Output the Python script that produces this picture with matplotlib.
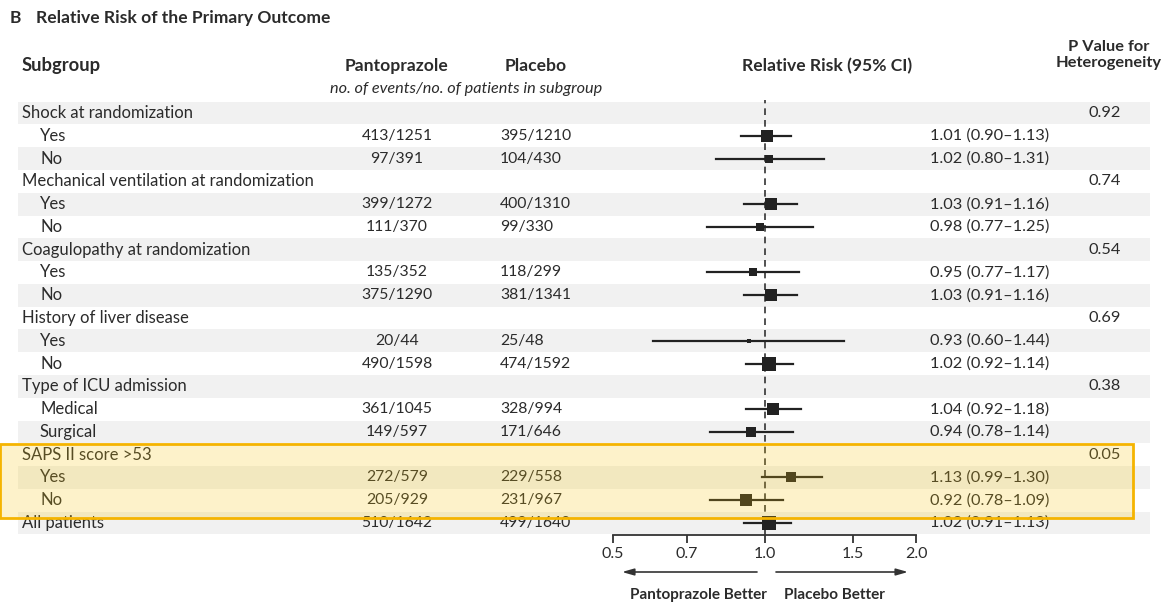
import matplotlib
matplotlib.use("Agg")
import matplotlib.pyplot as plt
from matplotlib.patches import Rectangle

# ---------------- data ----------------
labels = ["Shock at randomization", "Yes", "No",
          "Mechanical ventilation at randomization", "Yes", "No",
          "Coagulopathy at randomization", "Yes", "No",
          "History of liver disease", "Yes", "No",
          "Type of ICU admission", "Medical", "Surgical",
          "SAPS II score >53", "Yes", "No",
          "All patients"]
is_header = [True, False, False, True, False, False, True, False, False,
             True, False, False, True, False, False, True, False, False, True]
panto = [None, "413/1251", "97/391", None, "399/1272", "111/370", None, "135/352", "375/1290",
         None, "20/44", "490/1598", None, "361/1045", "149/597", None, "272/579", "205/929", "510/1642"]
placebo = [None, "395/1210", "104/430", None, "400/1310", "99/330", None, "118/299", "381/1341",
           None, "25/48", "474/1592", None, "328/994", "171/646", None, "229/558", "231/967", "499/1640"]
rr = [None, 1.01, 1.02, None, 1.03, 0.98, None, 0.95, 1.03, None, 0.93, 1.02,
      None, 1.04, 0.94, None, 1.13, 0.92, 1.02]
lo = [None, 0.90, 0.80, None, 0.91, 0.77, None, 0.77, 0.91, None, 0.60, 0.92,
      None, 0.92, 0.78, None, 0.99, 0.78, 0.91]
hi = [None, 1.13, 1.31, None, 1.16, 1.25, None, 1.17, 1.16, None, 1.44, 1.14,
      None, 1.18, 1.14, None, 1.30, 1.09, 1.13]
pvals = ["0.92", None, None, "0.74", None, None, "0.54", None, None, "0.69", None, None,
         "0.38", None, None, "0.05", None, None, None]
xticks = [0.5, 0.7, 1.0, 1.5, 2.0]
xticklabels = ["0.5", "0.7", "1.0", "1.5", "2.0"]

# ---------------- style ----------------
W, H = 1168, 614
plt.rcParams['font.family'] = ['Lato', 'DejaVu Sans']
TXT = "#2b2b2b"
FS_LAB = 12.0
FS_NUM = 11.3
FS_RR = 11.8
FS_HEAD = 12.6
fig = plt.figure(figsize=(W / 100, H / 100), dpi=100)

ax0 = fig.add_axes([0, 0, 1, 1])
ax0.set_xlim(0, W)
ax0.set_ylim(H, 0)
ax0.axis("off")

y0, dy = 113.0, 22.78
ys = [y0 + i * dy for i in range(len(labels))]

# alternating bands
for i, y in enumerate(ys):
    if i % 2 == 0:
        ax0.add_patch(Rectangle((18, y - dy / 2), 1132, dy, facecolor="#f1f1f1",
                                edgecolor="none", zorder=0))

# title and headers
ax0.text(10, 18, "B", fontsize=12.5, fontweight="bold", color=TXT, va="center")
ax0.text(36, 18, "Relative Risk of the Primary Outcome", fontsize=12.6, fontweight="bold",
         color=TXT, va="center")
ax0.text(22, 66, "Subgroup", fontsize=13.2, fontweight="bold", color=TXT, va="center")
ax0.text(397, 66, "Pantoprazole", fontsize=FS_HEAD, fontweight="bold", color=TXT,
         va="center", ha="center")
ax0.text(536, 66, "Placebo", fontsize=FS_HEAD, fontweight="bold", color=TXT,
         va="center", ha="center")
ax0.text(466, 89, "no. of events/no. of patients in subgroup", fontsize=11.7, style="italic",
         color=TXT, va="center", ha="center")
ax0.text(827, 66, "Relative Risk (95% CI)", fontsize=FS_HEAD, fontweight="bold", color=TXT,
         va="center", ha="center")
ax0.text(1109, 55, "P Value for\nHeterogeneity", fontsize=11.8, fontweight="bold",
         color=TXT, va="center", ha="center", linespacing=1.2)

for i, y in enumerate(ys):
    x = 22 if is_header[i] else 40
    ax0.text(x, y, labels[i], fontsize=FS_LAB, color=TXT, va="center")
    if panto[i]:
        ax0.text(397, y, panto[i], fontsize=FS_NUM, color=TXT, va="center", ha="center")
        ax0.text(500, y, placebo[i], fontsize=FS_NUM, color=TXT, va="center", ha="left")
    if rr[i] is not None:
        ax0.text(930, y, f"{rr[i]:.2f} ({lo[i]:.2f}\u2013{hi[i]:.2f})", fontsize=FS_RR,
                 color=TXT, va="center", ha="left")
    if pvals[i]:
        ax0.text(1121, y, pvals[i], fontsize=FS_RR, color=TXT, va="center", ha="right")

# ---------------- forest axes ----------------
xl, xr, ytop, ybot = 613, 916, 100, 535
axf = fig.add_axes([xl / W, (H - ybot) / H, (xr - xl) / W, (ybot - ytop) / H])
axf.patch.set_alpha(0)
axf.set_xscale("log")
axf.set_xlim(0.5, 2.0)
axf.set_ylim(ybot, ytop)
for s in ["top", "right", "left"]:
    axf.spines[s].set_visible(False)
axf.spines["bottom"].set_color("#333333")
axf.spines["bottom"].set_linewidth(1.3)
axf.set_yticks([])
axf.set_xticks(xticks)
axf.set_xticklabels(xticklabels)
axf.minorticks_off()
axf.tick_params(axis="x", direction="out", length=6, width=1.3, color="#333333",
                labelsize=11.5, labelcolor=TXT, pad=3)
axf.axvline(1.0, color="#333333", lw=1.2, ls=(0, (4, 3)), zorder=1)

totals = []
for p, q in zip(panto, placebo):
    if p:
        totals.append(int(p.split("/")[1]) + int(q.split("/")[1]))
    else:
        totals.append(None)
nmax = max(t for t in totals if t)
for i, y in enumerate(ys):
    if rr[i] is None:
        continue
    axf.plot([lo[i], hi[i]], [y, y], color="#222222", lw=1.6, zorder=2, clip_on=False)
    side = 3.0 + 11.0 * (totals[i] / nmax) ** 0.5
    axf.plot([rr[i]], [y], marker="s", color="#222222", markersize=side * 0.72,
             markeredgewidth=0, zorder=3, clip_on=False)

# arrows and direction labels
ax0.annotate("", xy=(622, 572), xytext=(757, 572),
             arrowprops=dict(arrowstyle="-|>,head_length=0.7,head_width=0.2",
                             color="#333333", lw=1.2, shrinkA=0, shrinkB=0))
ax0.annotate("", xy=(908, 572), xytext=(776, 572),
             arrowprops=dict(arrowstyle="-|>,head_length=0.7,head_width=0.2",
                             color="#333333", lw=1.2, shrinkA=0, shrinkB=0))
ax0.text(698, 595, "Pantoprazole Better", fontsize=11.0, fontweight="bold", color=TXT,
         ha="center", va="center")
ax0.text(834, 595, "Placebo Better", fontsize=11.0, fontweight="bold", color=TXT,
         ha="center", va="center")

# highlight overlay
axo = fig.add_axes([0, 0, 1, 1], zorder=10)
axo.set_xlim(0, W)
axo.set_ylim(H, 0)
axo.axis("off")
axo.add_patch(Rectangle((0, 444), 1133, 74, facecolor="#f9c80e", alpha=0.22,
                        edgecolor="none"))
axo.add_patch(Rectangle((0, 444), 1133, 74, facecolor="none", edgecolor="#f5b400",
                        lw=2.0))

fig.savefig("out.png", dpi=100)
